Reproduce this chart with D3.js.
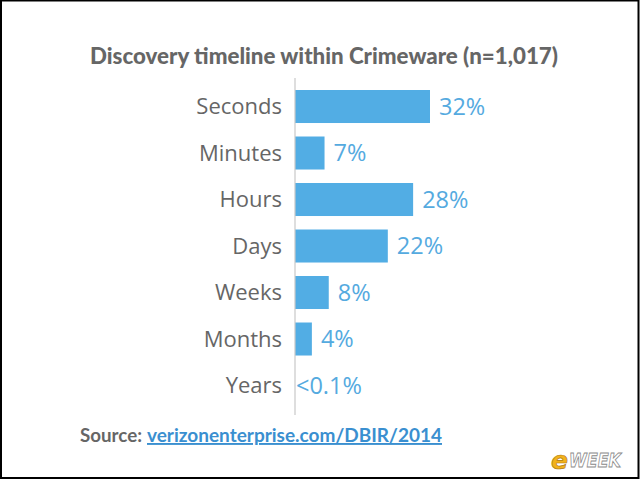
<!DOCTYPE html>
<html>
<head>
<meta charset="utf-8">
<script src="https://cdn.jsdelivr.net/npm/d3@7"></script>
<style>
  body { margin: 0; background: #fff; }
  svg { display: block; }
</style>
</head>
<body>
<svg width="640" height="480"></svg>
<script>
const categories = ['Seconds', 'Minutes', 'Hours', 'Days', 'Weeks', 'Months', 'Years'];
const values = [32, 7, 28, 22, 8, 4, 0];
const valueLabels = ['32%', '7%', '28%', '22%', '8%', '4%', '<0.1%'];

const svg = d3.select('svg');

// frame
svg.append('rect')
  .attr('x', 1).attr('y', 0.5)
  .attr('width', 637.5).attr('height', 477.5)
  .attr('fill', '#fff')
  .attr('stroke', '#000')
  .attr('stroke-width', 2);

// title
svg.append('text')
  .attr('x', 90)
  .attr('y', 64)
  .attr('textLength', 468)
  .attr('lengthAdjust', 'spacingAndGlyphs')
  .style('font-family', 'Lato, sans-serif')
  .style('font-weight', '900')
  .style('font-size', '22.5px')
  .style('fill', '#666')
  .text('Discovery timeline within Crimeware (n=1,017)');

const x = d3.scaleLinear()
  .domain([0, 32])
  .range([295, 430]);

const y = d3.scaleBand()
  .domain(categories)
  .range([83.26, 408.76])
  .paddingInner(0.29)
  .paddingOuter(0.145);

// bars
svg.selectAll('.bar')
  .data(categories)
  .enter().append('rect')
  .attr('class', 'bar')
  .attr('x', x(0))
  .attr('y', d => y(d))
  .attr('width', (d, i) => x(values[i]) - x(0))
  .attr('height', y.bandwidth())
  .attr('fill', '#52ade4');

// axis line
svg.append('line')
  .attr('x1', x(0)).attr('x2', x(0))
  .attr('y1', 78).attr('y2', 415)
  .attr('stroke', '#c8c8c8')
  .attr('stroke-width', 1.2);

// category labels
svg.selectAll('.cat')
  .data(categories)
  .enter().append('text')
  .attr('class', 'cat')
  .attr('x', 282)
  .attr('y', d => y(d) + y.bandwidth() / 2)
  .attr('dy', '0.36em')
  .attr('text-anchor', 'end')
  .style('font-family', '"Open Sans", sans-serif')
  .style('font-size', '22px')
  .style('fill', '#666')
  .text(d => d);

// value labels
svg.selectAll('.val')
  .data(categories)
  .enter().append('text')
  .attr('class', 'val')
  .attr('x', (d, i) => x(values[i]) + (values[i] > 0 ? 9 : 1))
  .attr('y', d => y(d) + y.bandwidth() / 2)
  .attr('dy', '0.36em')
  .style('font-family', '"Open Sans", sans-serif')
  .style('font-size', '23.5px')
  .style('fill', '#55aadf')
  .text((d, i) => valueLabels[i]);

// source line
svg.append('text')
  .attr('x', 80)
  .attr('y', 442)
  .attr('textLength', 62)
  .attr('lengthAdjust', 'spacingAndGlyphs')
  .style('font-family', 'Lato, sans-serif')
  .style('font-size', '19px')
  .style('font-weight', 'bold')
  .style('fill', '#666')
  .text('Source:');
svg.append('text')
  .attr('x', 147)
  .attr('y', 442)
  .attr('textLength', 295)
  .attr('lengthAdjust', 'spacingAndGlyphs')
  .style('font-family', 'Lato, sans-serif')
  .style('font-size', '19px')
  .style('font-weight', 'bold')
  .style('fill', '#3a8fd0')
  .style('text-decoration', 'underline')
  .text('verizonenterprise.com/DBIR/2014');

// eWEEK mark
svg.append('text')
  .attr('x', 551)
  .attr('y', 469)
  .style('font-family', '"DejaVu Sans", sans-serif')
  .style('font-weight', 'bold')
  .style('font-style', 'italic')
  .style('font-size', '25px')
  .style('fill', '#f2b21b')
  .style('stroke', '#b07a10')
  .style('stroke-width', 0.7)
  .text('e');
svg.append('text')
  .attr('x', 569)
  .attr('y', 467)
  .attr('textLength', 52)
  .attr('lengthAdjust', 'spacingAndGlyphs')
  .style('font-family', '"DejaVu Sans", sans-serif')
  .style('font-weight', 'bold')
  .style('font-style', 'italic')
  .style('font-size', '20px')
  .style('fill', '#fff')
  .style('stroke', '#8a8a8a')
  .style('stroke-width', 0.9)
  .text('WEEK');
</script>
</body>
</html>
